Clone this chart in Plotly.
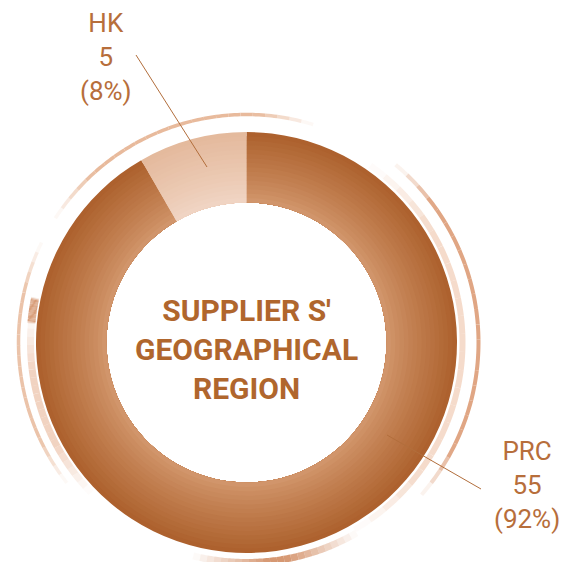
import math
import plotly.graph_objects as go

# ---------------- data ----------------
labels = ["PRC", "HK"]
values = [55, 5]
center_title = ["SUPPLIER S'", "GEOGRAPHICAL", "REGION"]

# ---------------- style ----------------
W = H = 562
CX, CY = 246.5, 342.5          # donut centre (px)
R_OUT, R_IN = 210.5, 140.0     # donut radii (px)
N_RINGS = 16
PRC_OUT, PRC_IN = (172, 96, 44), (211, 152, 110)
HK_OUT, HK_IN = (228, 185, 156), (241, 214, 197)
TEXT_C = "#B76E3B"
TITLE_C = "#B0662D"
LINE_C = "#B26E3C"


def lerp(a, b, t):
    return "rgb(%d,%d,%d)" % tuple(round(a[i] + (b[i] - a[i]) * t) for i in range(3))


def px2paper(x, y):
    return x / W, 1 - y / H


fig = go.Figure()

# radial gradient approximated with stacked concentric pies
for k in range(N_RINGS):
    R = R_IN + (R_OUT - R_IN) * (N_RINGS - k) / N_RINGS
    R_next = R_IN + (R_OUT - R_IN) * (N_RINGS - k - 1) / N_RINGS
    t = ((R + R_next) / 2 - R_IN) / (R_OUT - R_IN)   # 0 inner, 1 outer
    t = t ** 0.85
    fig.add_trace(go.Pie(
        values=values, labels=labels, sort=False, direction="clockwise",
        rotation=0, hole=R_IN / R,
        domain=dict(x=[(CX - R) / W, (CX + R) / W],
                    y=[1 - (CY + R) / H, 1 - (CY - R) / H]),
        marker=dict(colors=[lerp(PRC_IN, PRC_OUT, t), lerp(HK_IN, HK_OUT, t)],
                    line=dict(width=0)),
        textinfo="none", hoverinfo="skip", showlegend=False,
    ))

# ---------------- decorative arcs ----------------
# (radius px, start deg, end deg, width px, colour, peak opacity, fade fraction)
ARCS = [
    (228, -57, 17, 3.5, (232, 186, 156), 1.0, 0.2),
    (228, -64, -128, 3.5, (234, 192, 164), 0.95, 0.2),
    (216, -82, -134, 7, (238, 200, 178), 0.8, 0.3),
    (216, -78, -85, 8, (214, 152, 114), 0.95, 0.1),
    (220, 150, 194, 7, (212, 146, 106), 0.95, 0.45),
    (232, 40, 131, 4, (224, 166, 132), 1.0, 0.15),
    (216, 35, 150, 6, (242, 210, 190), 0.8, 0.2),
]

shapes = []
for (r, a0, a1, w, col, op, fade) in ARCS:
    nseg = 24
    for s in range(nseg):
        t0, t1 = s / nseg, (s + 1) / nseg
        tm = (t0 + t1) / 2
        env = min(1.0, tm / fade, (1 - tm) / fade) if fade > 0 else 1.0
        pts = []
        for j in range(5):
            a = math.radians(a0 + (a1 - a0) * (t0 + (t1 - t0) * j / 4))
            x, y = px2paper(CX + r * math.sin(a), CY - r * math.cos(a))
            pts.append("%.5f,%.5f" % (x, y))
        shapes.append(dict(
            type="path", xref="paper", yref="paper", layer="below",
            path="M " + " L ".join(pts),
            line=dict(color="rgba(%d,%d,%d,%.3f)" % (col + (op * max(env, 0.05),)), width=w),
        ))

# ---------------- leader lines & labels ----------------
LEADERS = {"HK": ((136, 55), (207, 167)), "PRC": ((387, 435), (481, 489))}
LABEL_POS = {"HK": (106, 57), "PRC": (527, 485)}
for name, (p0, p1) in LEADERS.items():
    x0, y0 = px2paper(*p0)
    x1, y1 = px2paper(*p1)
    shapes.append(dict(type="line", xref="paper", yref="paper", layer="above",
                       x0=x0, y0=y0, x1=x1, y1=y1,
                       line=dict(color=LINE_C, width=1)))

total = sum(values)
annotations = []
for name, v in zip(labels, values):
    pct = round(100 * v / total)
    x, y = px2paper(*LABEL_POS[name])
    annotations.append(dict(
        text=f"{name}<br>{v}<br>({pct}%)", x=x, y=y, xref="paper", yref="paper",
        showarrow=False, xanchor="center", yanchor="middle", align="center",
        font=dict(family="Roboto", size=26, color=TEXT_C, weight=400),
    ))

x, y = px2paper(247, 349)
annotations.append(dict(
    text="<br>".join(center_title), x=x, y=y, xref="paper", yref="paper",
    showarrow=False, xanchor="center", yanchor="middle", align="center",
    font=dict(family="Roboto", size=30, color=TITLE_C, weight=700),
))

fig.update_layout(
    width=W, height=H, margin=dict(l=0, r=0, t=0, b=0),
    paper_bgcolor="white", plot_bgcolor="white",
    shapes=shapes, annotations=annotations, showlegend=False,
)

fig.write_html(
    "out.html",
    config={"displayModeBar": False, "staticPlot": True},
    post_script="document.body.style.margin='0';document.body.style.overflow='hidden';",
)
